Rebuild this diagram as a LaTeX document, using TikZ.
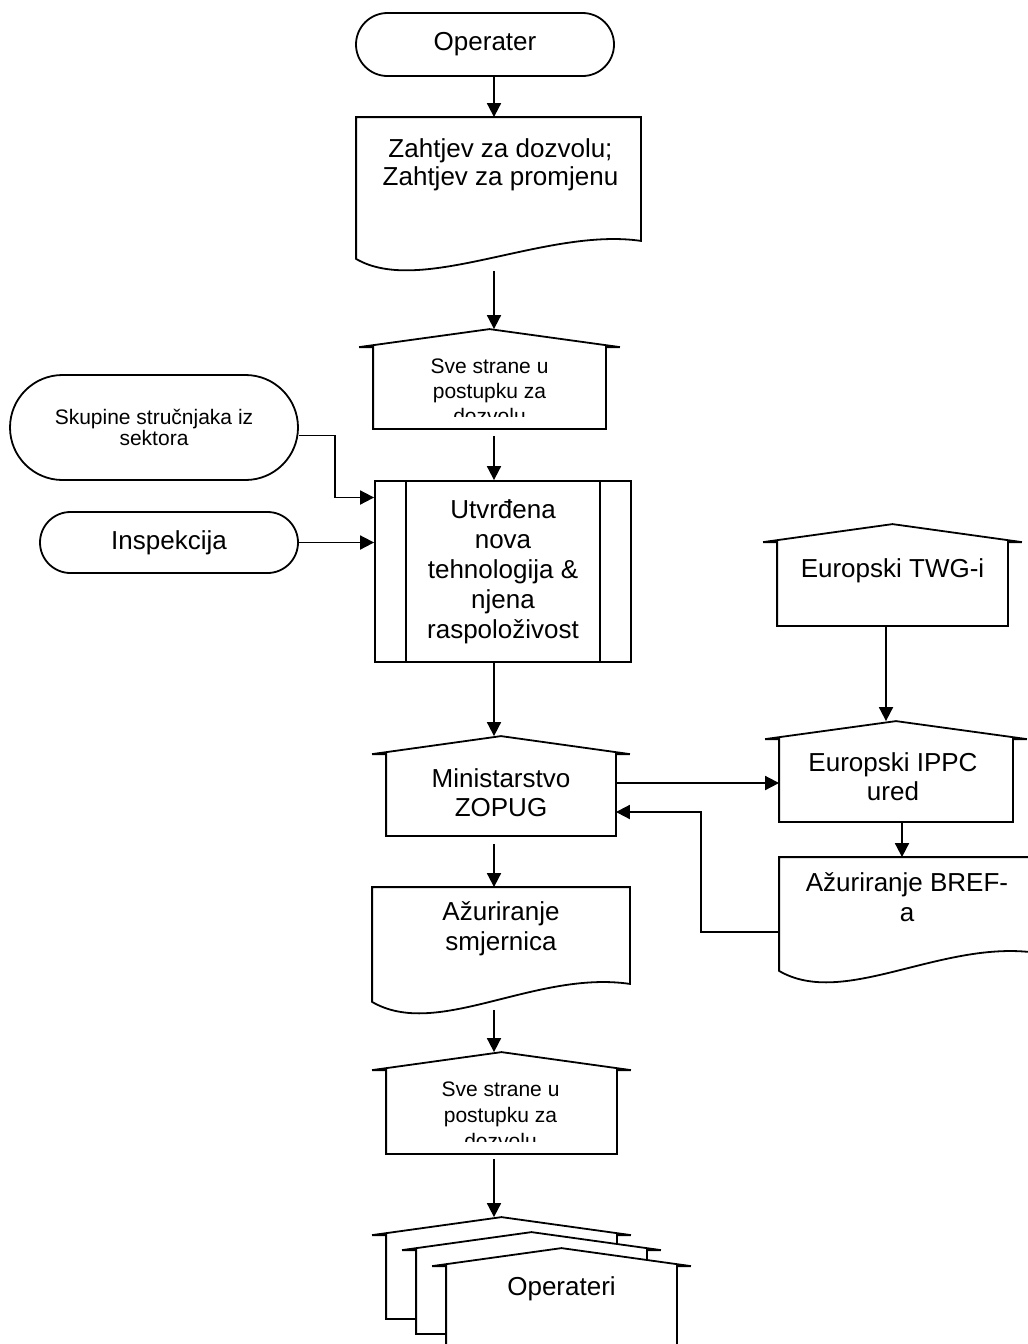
\documentclass[tikz,border=0pt]{standalone}
\usepackage{fontspec}
\setmainfont{Liberation Sans}
\usetikzlibrary{arrows.meta,shapes.misc,calc}
\newcommand{\houseshape}[1]{%
  \draw[fill=white] (#1.south west) -- ([yshift=-9pt]#1.north west) -- ++(-14,0)
    -- (#1.north) -- ([xshift=7pt,yshift=-9pt]#1.north east) -- ++(-14,0)
    -- (#1.south east) -- cycle;}
\newcommand{\docshape}[1]{%
  \draw[fill=white] (#1.north west) -- (#1.south west)
    .. controls +(65,38) and +(-95,-14) .. ([yshift=9pt]#1.south east)
    -- (#1.north east) -- cycle;}
\begin{document}
\begin{tikzpicture}[x=0.5pt,y=-0.5pt,line width=0.9pt,
  arr/.style={-{Triangle[length=7pt,width=7pt]}},
  term/.style={draw,rounded rectangle,inner sep=0pt},
  box/.style={inner sep=0pt},
  subproc/.style={draw,rectangle,inner sep=0pt,
    path picture={\draw ([xshift=15.5pt]path picture bounding box.north west) -- ([xshift=15.5pt]path picture bounding box.south west)
      ([xshift=-15.5pt]path picture bounding box.north east) -- ([xshift=-15.5pt]path picture bounding box.south east);}},
  bigtext/.style={align=center,inner sep=0pt,font=\fontsize{13}{15}\selectfont},
  smalltext/.style={align=center,inner sep=0pt,font=\fontsize{10.5}{12.5}\selectfont}]
\clip (0,0) rectangle (1028,1344);
\coordinate (axis) at (494,0);
\coordinate (raxis) at (886,0);
\coordinate (baxis) at (902,0);

\node[term,bigtext,minimum width=129pt,minimum height=31.5pt] (operater) at (485,44.5) {Operater};

\node[box,minimum width=141.5pt,minimum height=70pt] (zahtjev) at (498.5,188) {};
\docshape{zahtjev}
\node[bigtext,font=\fontsize{13}{14}\selectfont] (zahtjevtxt) at ($(zahtjev.north)+(2,48)$) {Zahtjev za dozvolu;\\Zahtjev za promjenu};

\node[box,minimum width=115.5pt,minimum height=49pt] (sve1) at (489.5,379) {};
\houseshape{sve1}
\begin{scope}
  \clip ([yshift=6pt]sve1.south west) rectangle (sve1.north east);
  \node[smalltext] (sve1txt) at ($(sve1.north)+(0,62)$) {Sve strane u\\postupku za\\dozvolu};
\end{scope}

\node[subproc,bigtext,minimum width=128pt,minimum height=90.5pt] (utv) at (503,571.5) {Utvrđena\\nova\\tehnologija \&\\njena\\raspoloživost};

\node[term,smalltext,font=\fontsize{10.5}{10.5}\selectfont,minimum width=144pt,minimum height=52.5pt] (skup) at (154,427.5) {Skupine stručnjaka iz\\sektora};
\node[term,bigtext,minimum width=129pt,minimum height=30.5pt] (insp) at (169,542.5) {Inspekcija};

\node[box,minimum width=114.5pt,minimum height=50pt] (twg) at (892.5,575) {};
\houseshape{twg}
\node[bigtext] (twgtxt) at ($(twg.north)+(0,47)$) {Europski TWG-i};

\node[box,minimum width=116pt,minimum height=49.5pt] (ippc) at (896,771.5) {};
\houseshape{ippc}
\node[bigtext,font=\fontsize{13}{14.5}\selectfont] (ippctxt) at ($(ippc.north)+(-3,56)$) {Europski IPPC\\ured};

\node[box,minimum width=114pt,minimum height=49pt] (mini) at (501,786) {};
\houseshape{mini}
\node[bigtext,font=\fontsize{13}{14.5}\selectfont] (minitxt) at ($(mini.north)+(0,57)$) {Ministarstvo\\ZOPUG};

\node[box,minimum width=128pt,minimum height=56pt] (bref) at (908,914) {};
\docshape{bref}
\node[bigtext] (breftxt) at ($(bref.north)+(-1,40)$) {Ažuriranje BREF-\\a};

\node[box,minimum width=128pt,minimum height=56.5pt] (smj) at (501,944.5) {};
\docshape{smj}
\node[bigtext] (smjtxt) at ($(smj.north)+(0,42)$) {Ažuriranje\\smjernica};

\node[box,minimum width=114.5pt,minimum height=50pt] (sve2) at (501.5,1103) {};
\houseshape{sve2}
\begin{scope}
  \clip ([yshift=6pt]sve2.south west) rectangle (sve2.north east);
  \node[smalltext,font=\fontsize{10.5}{13}\selectfont] (sve2txt) at ($(sve2.north)+(-1,63)$) {Sve strane u\\postupku za\\dozvolu};
\end{scope}

\node[box,minimum width=114.5pt,minimum height=50pt] (op1) at (501.5,1268) {};
\node[box,minimum width=114.5pt,minimum height=50pt] (op2) at ($(op1)+(30,15)$) {};
\node[box,minimum width=114.5pt,minimum height=50pt] (op3) at ($(op1)+(60,31)$) {};
\houseshape{op1}
\houseshape{op2}
\houseshape{op3}
\node[bigtext] (optxt) at ($(op3.north)+(0,41)$) {Operateri};

\draw[arr] (operater.south -| axis) -- (zahtjev.north -| axis);
\draw[arr,shorten <=6pt] (zahtjev.south -| axis) -- (sve1.north -| axis);
\draw[arr,shorten <=3.5pt] (sve1.south -| axis) -- (utv.north -| axis);
\draw[arr] ([yshift=-4pt]skup.east) -- ++(36,0) |- ([yshift=37pt]utv.west);
\draw[arr] (insp.east) -- (insp.east -| utv.west);
\draw[arr] (utv.south -| axis) -- (mini.north -| axis);
\draw[arr] (twg.south -| raxis) -- (ippc.north -| raxis);
\draw[arr] ([yshift=1.5pt]mini.east) -- ([yshift=1.5pt]mini.east -| ippc.west);
\draw[arr] (ippc.south -| baxis) -- (bref.north -| baxis);
\draw[arr] ([yshift=-9pt]bref.west) -- ++(-78,0) |- ([yshift=-13pt]mini.east);
\draw[arr,shorten <=4pt] (mini.south -| axis) -- (smj.north -| axis);
\draw[arr,shorten <=4pt] (smj.south -| axis) -- (sve2.north -| axis);
\draw[arr,shorten <=2.5pt] (sve2.south -| axis) -- (op1.north -| axis);
\end{tikzpicture}
\end{document}
